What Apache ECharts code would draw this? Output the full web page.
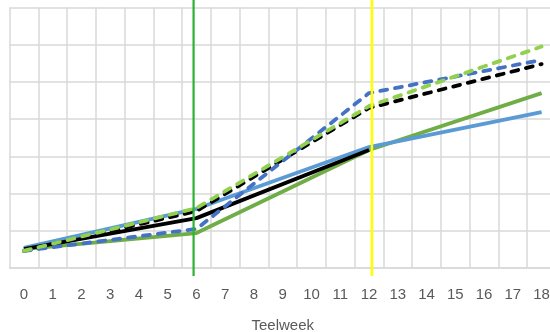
<!DOCTYPE html>
<html>
<head>
<meta charset="utf-8">
<script src="https://cdn.jsdelivr.net/npm/echarts@6/dist/echarts.min.js"></script>
<style>
  html, body { margin: 0; padding: 0; background: #ffffff; }
  #chart { width: 550px; height: 332px; }
</style>
</head>
<body>
<div id="chart"></div>
<script>
// Teelweek categories on the x axis
const weeks = ['0','1','2','3','4','5','6','7','8','9','10','11','12','13','14','15','16','17','18'];

// Measured values at weeks 0, 6, 12 and 18; the lines are straight between them
const greenSolid  = [5.1, null, null, null, null, null, 9.4,  null, null, null, null, null, 31.7, null, null, null, null, null, 47.0];
const blueSolid   = [5.4, null, null, null, null, null, 15.9, null, null, null, null, null, 32.5, null, null, null, null, null, 41.9];
const blackSolid  = [5.1, null, null, null, null, null, 13.4, null, null, null, null, null, 31.7, null, null, null, null, null, null];
const blackDashed = [4.6, null, null, null, null, null, 15.3, null, null, null, null, null, 43.0, null, null, null, null, null, 54.8];
const blueDashed  = [4.6, null, null, null, null, null, 10.5, null, null, null, null, null, 47.0, null, null, null, null, null, 55.9];
const greenDashed = [4.6, null, null, null, null, null, 16.1, null, null, null, null, null, 43.5, null, null, null, null, null, 59.5];

// Reference weeks drawn as vertical marker lines
const markerGreenWeek = 5.9;
const markerYellowWeek = 12.1;

const chart = echarts.init(document.getElementById('chart'), null, { renderer: 'canvas' });

function lineSeries(name, data, color, dashed, z) {
  return {
    name: name,
    type: 'line',
    data: data,
    connectNulls: true,
    symbol: 'none',
    z: z,
    lineStyle: {
      color: color,
      width: 3.8,
      type: dashed ? [7, 8] : 'solid',
      cap: dashed ? 'round' : 'butt',
      join: 'round'
    },
    emphasis: { disabled: true }
  };
}

function markerSeries(name, week, color, width) {
  return {
    name: name,
    type: 'line',
    xAxisIndex: 1,
    yAxisIndex: 1,
    data: [[week, 0], [week, 1]],
    symbol: 'none',
    z: 10,
    lineStyle: { color: color, width: width },
    emphasis: { disabled: true }
  };
}

chart.setOption({
  animation: false,
  backgroundColor: '#ffffff',
  grid: [
    { left: 9.5, right: -6, top: 7.5, bottom: 64, outerBoundsMode: 'none', containLabel: false },
    { left: 9.5, right: -6, top: 0, bottom: 56, outerBoundsMode: 'none', containLabel: false }
  ],
  xAxis: [
    {
      type: 'category',
      gridIndex: 0,
      data: weeks,
      boundaryGap: true,
      name: 'Teelweek',
      nameLocation: 'middle',
      nameGap: 50,
      nameTextStyle: { fontFamily: 'Liberation Sans', fontSize: 15, color: '#595959' },
      axisLine: { show: true, lineStyle: { color: '#d9d9d9', width: 1.5 } },
      axisTick: { show: false },
      axisLabel: { fontFamily: 'Liberation Sans', fontSize: 15, color: '#595959', margin: 19, interval: 0 },
      splitLine: { show: true, interval: 0, lineStyle: { color: '#d9d9d9', width: 1.5 } }
    },
    {
      type: 'value',
      gridIndex: 1,
      min: -0.5,
      max: 18.5,
      show: false
    }
  ],
  yAxis: [
    {
      type: 'value',
      gridIndex: 0,
      min: 0,
      max: 70,
      interval: 10,
      axisLine: { show: false },
      axisTick: { show: false },
      axisLabel: { show: false },
      splitLine: { show: true, lineStyle: { color: '#d9d9d9', width: 1.5 } }
    },
    {
      type: 'value',
      gridIndex: 1,
      min: 0,
      max: 1,
      show: false
    }
  ],
  series: [
    lineSeries('Groen', greenSolid, '#70AD47', false, 2),
    lineSeries('Blauw', blueSolid, '#5B9BD5', false, 3),
    lineSeries('Zwart', blackSolid, '#000000', false, 4),
    lineSeries('Zwart gestippeld', blackDashed, '#000000', true, 5),
    lineSeries('Blauw gestippeld', blueDashed, '#4472C4', true, 6),
    lineSeries('Groen gestippeld', greenDashed, '#92D050', true, 7),
    markerSeries('Week 6', markerGreenWeek, '#2DB233', 2.2),
    markerSeries('Week 12', markerYellowWeek, '#FFFF00', 2.6)
  ]
});
</script>
</body>
</html>
